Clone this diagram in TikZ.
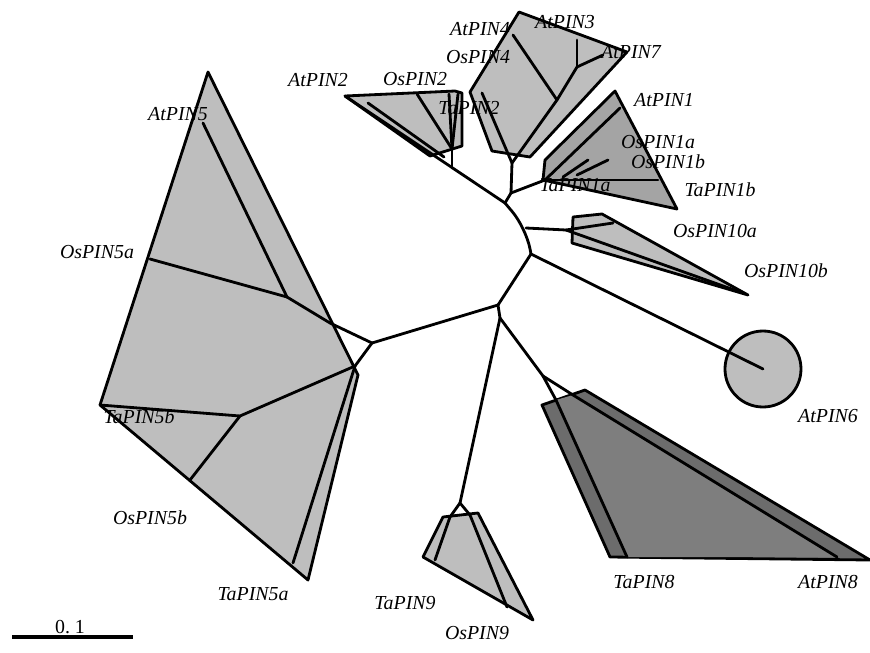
\documentclass[tikz,border=0pt]{standalone}
\usepackage{fontspec}
\setmainfont{Liberation Serif}
\usetikzlibrary{positioning}
\definecolor{cladelight}{HTML}{BEBEBE}
\definecolor{clademid}{HTML}{A4A4A4}
\definecolor{cladedark}{HTML}{6C6C6C}
\definecolor{cladedarkin}{HTML}{7E7E7E}

\begin{document}
\begin{tikzpicture}[
  x=0.02cm, y=-0.02cm,
  every node/.style={font=\itshape\fontsize{11.3}{13}\selectfont, inner sep=0pt},
  edge/.style  = {line width=1.6pt, line join=round, line cap=round},
  clade/.style = {draw, line width=1.6pt, line join=round, fill=cladelight},
  dark/.style  = {clade, fill=clademid},
  deep/.style  = {clade, fill=cladedark},
  barfont/.style = {font=\fontsize{11.3}{13}\selectfont},
]
  \useasboundingbox (0,0) rectangle (870,653);
  % Collapsed clades (drawn first, the branches go on top).
  \draw[clade] (208,72) -- (100,405) -- (308,580) -- (358,375) -- cycle;
  \draw[clade] (345,96) -- (455,91) -- (462,93) -- (462,146) -- (430,156) -- cycle;
  \draw[clade] (519,12) -- (627,52) -- (530,157) -- (492,151) -- (470,92) -- cycle;
  \draw[dark]  (615,91) -- (677,209) -- (543,180) -- (545,160) -- cycle;
  \draw[clade] (573,217) -- (602,214) -- (748,295) -- (572,243) -- cycle;
  \draw[clade] (423,557) -- (443,517) -- (478,513) -- (533,620) -- cycle;
  \draw[deep]  (542,405) -- (585,390) -- (870,560) -- (610,557) -- cycle;
  \fill[cladedarkin] (556,400) -- (573,395) -- (837,557) -- (627,557) -- cycle;
  \draw[clade] (763,369) circle (38);

  % Backbone junctions.
  \coordinate (j1)  at (505,203);
  \coordinate (jup) at (511,193);
  \coordinate (j2)  at (526,228);
  \coordinate (j3)  at (531,254);
  \coordinate (j4)  at (498,305);
  \coordinate (j5)  at (372,343);
  \coordinate (j6)  at (500,318);
  \coordinate (j8)  at (543,376);
  \coordinate (j9)  at (460,503);
  % PIN4 / PIN3 / PIN7
  \coordinate (j4a) at (512,163);
  \coordinate (j4b) at (557,100);
  \coordinate (j4c) at (577,67);
  \coordinate (at4end) at (513,35);
  \coordinate (at3end) at (577,40);
  \coordinate (at7end) at (603,55);
  \coordinate (ta2end) at (482,93);
  % PIN1
  \coordinate (j1a)  at (545,180);
  \coordinate (at1end) at (620,108);
  \coordinate (ta1bend) at (658,180);
  \coordinate (os1aa) at (563,177);
  \coordinate (os1ab) at (588,160);
  \coordinate (os1ba) at (577,175);
  \coordinate (os1bb) at (608,160);
  % PIN2
  \coordinate (at2end) at (345,96);
  \coordinate (jp2)  at (452,168);
  \coordinate (jp2b) at (452,149);
  \coordinate (os2end) at (417,94);
  \coordinate (p2a) at (449,94);
  \coordinate (p2b) at (458,94);
  \coordinate (p2c) at (368,103);
  \coordinate (p2d) at (444,157);
  % PIN10 and PIN6
  \coordinate (j10) at (566,230);
  \coordinate (os10aend) at (613,223);
  \coordinate (os10bend) at (740,292);
  \coordinate (at6end) at (763,369);
  % PIN5
  \coordinate (p5)  at (330,323);
  \coordinate (n5a) at (287,297);
  \coordinate (os5aend) at (150,259);
  \coordinate (at5end) at (203,123);
  \coordinate (q5)  at (355,366);
  \coordinate (r5)  at (240,416);
  \coordinate (ta5bend) at (100,405);
  \coordinate (os5bend) at (190,480);
  \coordinate (ta5aend) at (293,563);
  % PIN8 and PIN9
  \coordinate (j8a) at (556,400);
  \coordinate (j8b) at (573,395);
  \coordinate (ta8end) at (627,557);
  \coordinate (at8end) at (837,557);
  \coordinate (j9a) at (450,517);
  \coordinate (j9b) at (470,515);
  \coordinate (ta9end) at (435,560);
  \coordinate (os9end) at (507,607);

  % Branches.
  \draw[edge, rounded corners=12pt] (j1) -- (j2) -- (j3);
  \foreach \a/\b in {j1/jup, jup/j4a, j4a/ta2end, j4a/j4b, j4b/at4end, j4b/j4c,
                     j4c/at3end, j4c/at7end, jup/j1a, j1a/at1end, j1a/ta1bend,
                     os1aa/os1ab, os1ba/os1bb, j1/at2end, jp2/jp2b, jp2b/os2end,
                     jp2b/p2a, jp2b/p2b, p2c/p2d, j2/j10, j10/os10aend,
                     j10/os10bend, j3/at6end, j3/j4, j4/j5, j4/j6, j5/p5,
                     p5/n5a, n5a/os5aend, n5a/at5end, j5/q5, q5/r5, r5/ta5bend,
                     r5/os5bend, q5/ta5aend, j6/j8, j8/j8a, j8a/ta8end, j8/j8b,
                     j8b/at8end, j6/j9, j9/j9a, j9a/ta9end, j9/j9b, j9b/os9end}
     \draw[edge] (\a) -- (\b);

  % Leaf labels.
  \node (atpin4)  at (480,29)  {AtPIN4};
  \node (atpin3)  at (565,22)  {AtPIN3};
  \node (atpin7)  at (631,52)  {AtPIN7};
  \node (ospin4)  at (478,57)  {OsPIN4};
  \node (ospin2)  at (415,79)  {OsPIN2};
  \node (atpin2)  at (318,80)  {AtPIN2};
  \node (tapin2)  at (469,108) {TaPIN2};
  \node (atpin1)  at (664,100) {AtPIN1};
  \node (ospin1a) at (658,142) {OsPIN1a};
  \node (ospin1b) at (668,162) {OsPIN1b};
  \node (tapin1a) at (575,185) {TaPIN1a};
  \node (tapin1b) at (720,190) {TaPIN1b};
  \node (ospin10a) at (715,231) {OsPIN10a};
  \node (ospin10b) at (786,271) {OsPIN10b};
  \node (atpin6)  at (828,416) {AtPIN6};
  \node (atpin8)  at (828,582) {AtPIN8};
  \node (tapin8)  at (644,582) {TaPIN8};
  \node (tapin9)  at (405,603) {TaPIN9};
  \node (ospin9)  at (477,633) {OsPIN9};
  \node (tapin5a) at (253,594) {TaPIN5a};
  \node (ospin5b) at (150,518) {OsPIN5b};
  \node (tapin5b) at (139,417) {TaPIN5b};
  \node (ospin5a) at (97,252)  {OsPIN5a};
  \node (atpin5)  at (178,114) {AtPIN5};

  % Scale bar.
  \coordinate (barl) at (12,637);
  \coordinate (barr) at (133,637);
  \draw[line width=1.8pt] (barl) -- (barr);
  \node[barfont] (barlabel) at (70,627) {0.\ 1};
\end{tikzpicture}
\end{document}
